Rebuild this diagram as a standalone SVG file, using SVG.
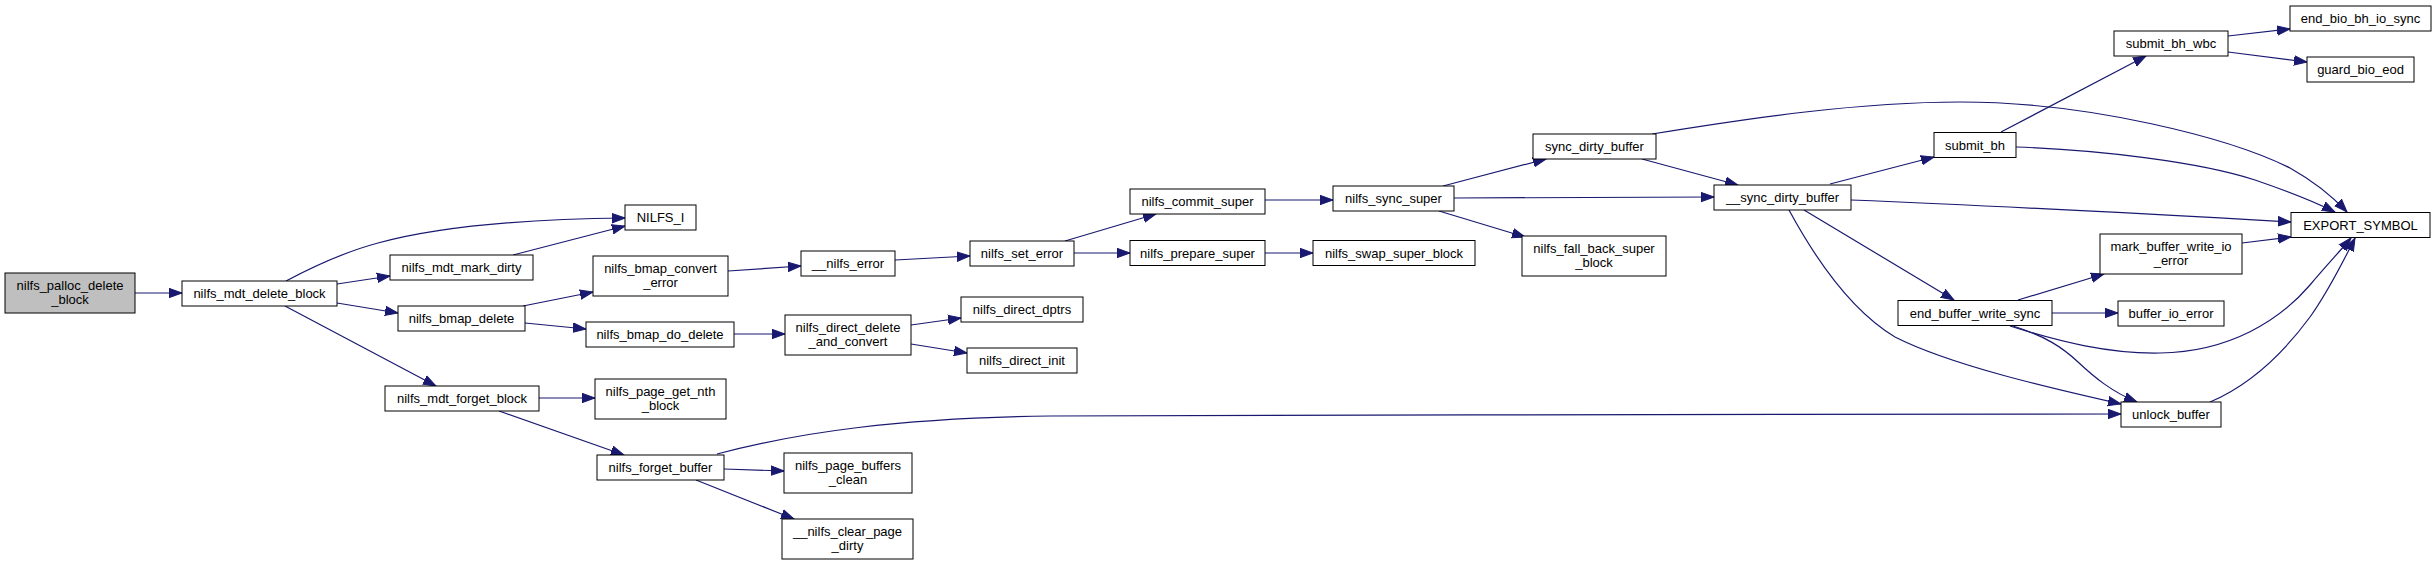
<svg xmlns="http://www.w3.org/2000/svg" width="2436" height="565" viewBox="0 0 2436 565">
<style>
.n rect{fill:#fff;stroke:#000;stroke-width:1}
.n.root rect{fill:#bfbfbf}
.n text{font-family:"Liberation Sans",Arial,Helvetica,sans-serif;font-size:13px;fill:#000;text-anchor:middle}
.e path{fill:none;stroke:#191970;stroke-width:1.2;marker-end:url(#arr)}
</style>
<defs>
<marker id="arr" markerUnits="userSpaceOnUse" markerWidth="14" markerHeight="11" refX="13" refY="5" orient="auto" viewBox="0 0 14 10">
<path d="M0,0.3 L13,5 L0,9.7 z" fill="#191970" stroke="#191970" stroke-width="1"/>
</marker>
</defs>
<rect width="2436" height="565" fill="#fff"/>
<g id="edges" class="e">
<path d="M135,293 L182,293"/>
<path d="M286,281 C318,264 348,251 378,243 C440,226 530,219 625,218"/>
<path d="M337,284 L390,276"/>
<path d="M337,303 L398,313"/>
<path d="M285,306 L436,386"/>
<path d="M513,255 L625,226"/>
<path d="M523,306 L593,292"/>
<path d="M525,323 L586,329"/>
<path d="M728,271 L801,266"/>
<path d="M895,260 L970,256"/>
<path d="M1065,241 L1156,214"/>
<path d="M1074,253 L1130,253"/>
<path d="M1265,200 L1333,200"/>
<path d="M1265,253 L1313,253"/>
<path d="M1443,186 L1546,159"/>
<path d="M1454,198 L1714,197"/>
<path d="M1439,211 L1525,237"/>
<path d="M1642,159 L1738,185"/>
<path d="M1652,134 C1750,118 1860,102 1960,102 C2090,102 2230,138 2290,168 C2315,182 2333,197 2347,212"/>
<path d="M1830,184 L1934,157"/>
<path d="M2001,132 L2146,56"/>
<path d="M2016,147 C2100,150 2200,162 2255,180 C2290,192 2315,202 2335,212"/>
<path d="M1851,200 C2000,206 2150,214 2291,222"/>
<path d="M1804,210 L1954,300"/>
<path d="M1789,210 C1815,258 1850,310 1895,337 C1950,365 2050,388 2121,404"/>
<path d="M2018,300 L2104,274"/>
<path d="M2052,313 L2118,313"/>
<path d="M2010,326 C2060,342 2110,354 2160,353 C2230,352 2280,320 2310,285 C2326,266 2341,250 2351,238"/>
<path d="M2013,326 C2045,336 2062,347 2078,362 C2094,377 2112,392 2137,402"/>
<path d="M2210,402 C2250,385 2282,355 2310,317 C2328,292 2343,262 2355,238"/>
<path d="M717,454 C800,432 900,418 1050,416 C1400,415 1800,414 2121,414"/>
<path d="M539,398 L595,398"/>
<path d="M499,411 L624,455"/>
<path d="M724,469 L784,471"/>
<path d="M696,480 L794,519"/>
<path d="M734,334 L785,334"/>
<path d="M911,325 L961,318"/>
<path d="M911,344 L967,353"/>
<path d="M2228,36 L2290,29"/>
<path d="M2228,52 L2307,62"/>
<path d="M2242,243 L2291,237"/>
</g>
<g id="n_palloc_delete_block" class="n root"><rect x="5" y="273" width="130" height="40"/><text x="70" y="290">nilfs_palloc_delete</text><text x="70" y="304">_block</text></g>
<g id="n_mdt_delete_block" class="n"><rect x="182" y="281" width="155" height="25"/><text x="259.5" y="298">nilfs_mdt_delete_block</text></g>
<g id="n_NILFS_I" class="n"><rect x="625" y="205" width="71" height="25"/><text x="660.5" y="222">NILFS_I</text></g>
<g id="n_mdt_mark_dirty" class="n"><rect x="390" y="255" width="143" height="25"/><text x="461.5" y="272">nilfs_mdt_mark_dirty</text></g>
<g id="n_bmap_delete" class="n"><rect x="398" y="306" width="127" height="25"/><text x="461.5" y="323">nilfs_bmap_delete</text></g>
<g id="n_mdt_forget_block" class="n"><rect x="385" y="386" width="154" height="25"/><text x="462" y="403">nilfs_mdt_forget_block</text></g>
<g id="n_bmap_convert_error" class="n"><rect x="593" y="256" width="135" height="40"/><text x="660.5" y="273">nilfs_bmap_convert</text><text x="660.5" y="287">_error</text></g>
<g id="n_bmap_do_delete" class="n"><rect x="586" y="322" width="148" height="25"/><text x="660" y="339">nilfs_bmap_do_delete</text></g>
<g id="n_page_get_nth_block" class="n"><rect x="595" y="379" width="131" height="40"/><text x="660.5" y="396">nilfs_page_get_nth</text><text x="660.5" y="410">_block</text></g>
<g id="n_forget_buffer" class="n"><rect x="597" y="455" width="127" height="25"/><text x="660.5" y="472">nilfs_forget_buffer</text></g>
<g id="n_page_buffers_clean" class="n"><rect x="784" y="453" width="128" height="40"/><text x="848" y="470">nilfs_page_buffers</text><text x="848" y="484">_clean</text></g>
<g id="n_clear_page_dirty" class="n"><rect x="782" y="519" width="131" height="40"/><text x="847.5" y="536">__nilfs_clear_page</text><text x="847.5" y="550">_dirty</text></g>
<g id="n_nilfs_error" class="n"><rect x="801" y="251" width="94" height="25"/><text x="848" y="268">__nilfs_error</text></g>
<g id="n_direct_delete_and_convert" class="n"><rect x="785" y="315" width="126" height="40"/><text x="848" y="332">nilfs_direct_delete</text><text x="848" y="346">_and_convert</text></g>
<g id="n_direct_dptrs" class="n"><rect x="961" y="297" width="122" height="25"/><text x="1022" y="314">nilfs_direct_dptrs</text></g>
<g id="n_direct_init" class="n"><rect x="967" y="348" width="110" height="25"/><text x="1022" y="365">nilfs_direct_init</text></g>
<g id="n_set_error" class="n"><rect x="970" y="241" width="104" height="25"/><text x="1022" y="258">nilfs_set_error</text></g>
<g id="n_commit_super" class="n"><rect x="1130" y="189" width="135" height="25"/><text x="1197.5" y="206">nilfs_commit_super</text></g>
<g id="n_prepare_super" class="n"><rect x="1130" y="240.5" width="135" height="25"/><text x="1197.5" y="257.5">nilfs_prepare_super</text></g>
<g id="n_sync_super" class="n"><rect x="1333" y="186" width="121" height="25"/><text x="1393.5" y="203">nilfs_sync_super</text></g>
<g id="n_swap_super_block" class="n"><rect x="1313" y="240.5" width="162" height="25"/><text x="1394" y="257.5">nilfs_swap_super_block</text></g>
<g id="n_fall_back_super_block" class="n"><rect x="1522" y="236" width="144" height="40"/><text x="1594" y="253">nilfs_fall_back_super</text><text x="1594" y="267">_block</text></g>
<g id="n_sync_dirty_buffer" class="n"><rect x="1533" y="134" width="123" height="25"/><text x="1594.5" y="151">sync_dirty_buffer</text></g>
<g id="n___sync_dirty_buffer" class="n"><rect x="1714" y="185" width="137" height="25"/><text x="1782.5" y="202">__sync_dirty_buffer</text></g>
<g id="n_submit_bh" class="n"><rect x="1934" y="132.5" width="82" height="25"/><text x="1975" y="149.5">submit_bh</text></g>
<g id="n_submit_bh_wbc" class="n"><rect x="2114" y="31" width="114" height="25"/><text x="2171" y="48">submit_bh_wbc</text></g>
<g id="n_end_bio_bh_io_sync" class="n"><rect x="2290" y="6" width="141" height="25"/><text x="2360.5" y="23">end_bio_bh_io_sync</text></g>
<g id="n_guard_bio_eod" class="n"><rect x="2307" y="57" width="107" height="25"/><text x="2360.5" y="74">guard_bio_eod</text></g>
<g id="n_EXPORT_SYMBOL" class="n"><rect x="2291" y="212.5" width="139" height="25"/><text x="2360.5" y="229.5">EXPORT_SYMBOL</text></g>
<g id="n_end_buffer_write_sync" class="n"><rect x="1898" y="300.5" width="154" height="25"/><text x="1975" y="317.5">end_buffer_write_sync</text></g>
<g id="n_mark_buffer_write_io_error" class="n"><rect x="2100" y="234" width="142" height="40"/><text x="2171" y="251">mark_buffer_write_io</text><text x="2171" y="265">_error</text></g>
<g id="n_buffer_io_error" class="n"><rect x="2118" y="301" width="106" height="25"/><text x="2171" y="318">buffer_io_error</text></g>
<g id="n_unlock_buffer" class="n"><rect x="2121" y="402" width="100" height="25"/><text x="2171" y="419">unlock_buffer</text></g>
</svg>
